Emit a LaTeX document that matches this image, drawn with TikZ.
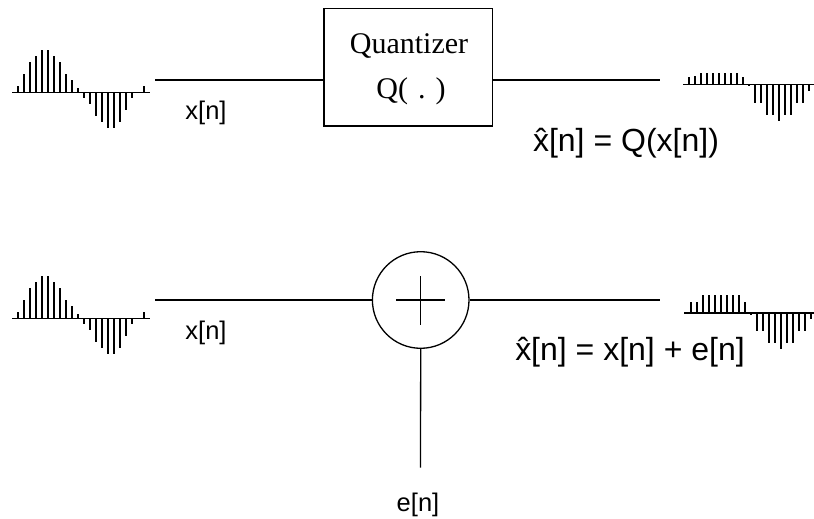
\documentclass[tikz,border=0pt]{standalone}
\usepackage{fontspec}
\setmainfont{Liberation Sans}
\newfontfamily\serifQ{Liberation Serif}
\newcommand\xhat{\ooalign{x\cr\hidewidth ˆ\hidewidth\cr}}
\newcommand\sigplot[5]{%
  \draw[axisline] (#1,#3) -- (#2,#3);
  \foreach \k/\h in {#5} \draw[stemline] ({#4+6*\k},#3) -- ++(0,{-1*(\h)});
}
\begin{document}
\begin{tikzpicture}[x=1pt,y=-1pt,
  wire/.style={line width=1.3pt},
  stemline/.style={line width=1.7pt},
  axisline/.style={line width=1.6pt},
  lbl/.style={font=\fontsize{25.5}{30}\selectfont, inner sep=0pt},
  eqn/.style={font=\fontsize{32}{38}\selectfont, inner sep=0pt},
  boxtxt/.style={font=\serifQ\fontsize{30}{36}\selectfont, inner sep=0pt}]
\useasboundingbox (0,0) rectangle (814,519);

% ---------- top row ----------
\node[draw, wire, minimum width=168.7pt, minimum height=117.7pt, inner sep=0pt] (Q) at (408.4,67.2) {};
\node[boxtxt] (qt1) at (409,46) {Quantizer};
\node[boxtxt] (qt2) at (411,91) {Q(\,\,.\,\,)};
\coordinate (inTop) at (155,80);
\coordinate (outTop) at (660,80);
\draw[wire] (inTop) -- (inTop -| Q.west);
\draw[wire] (outTop -| Q.east) -- (outTop);
\node[lbl] (xt) at (206,113) {x[n]};
\node[eqn] (eqt) at (626,143) {\xhat[n] = Q(x[n])};

\sigplot{12}{150}{92.3}{17.7}{0/6,1/18,2/30,3/36,4/42,5/42,6/36,7/30,8/18,9/12,10/4,11/-6,12/-12,13/-24,14/-30,15/-36,16/-36,17/-30,18/-18,19/-6,21/6}
\sigplot{683.3}{814}{84.5}{689.3}{0/7,1/8,2/11,3/11,4/11,5/11,6/11,7/11,8/11,9/7,10/-2,11/-18,12/-18,13/-30,14/-30,15/-36,16/-30,17/-30,18/-18,19/-18,20/-6}

% ---------- bottom row ----------
\node[circle, draw, wire, minimum size=96.6pt, inner sep=0pt] (S) at (420.7,300) {};
\draw[wire] ([xshift=-24.3pt]S.center) -- ([xshift=24.3pt]S.center);
\draw[wire] ([yshift=-24.5pt]S.center) -- ([yshift=24.5pt]S.center);
\coordinate (inBot) at (155,300);
\coordinate (outBot) at (660,300);
\coordinate (eEnd) at (420.5,467.7);
\draw[wire] (inBot) -- (S.west);
\draw[wire] (S.east) -- (outBot);
\draw[wire] (S.south) -- (eEnd);
\node[lbl] (xb) at (206,333) {x[n]};
\node[lbl] (en) at (418,505) {e[n]};
\node[eqn] (eqb) at (630,352) {\xhat[n] = x[n] + e[n]};

\sigplot{12}{150}{318.3}{17.7}{0/6,1/18,2/30,3/36,4/42,5/42,6/36,7/30,8/18,9/12,10/4,11/-6,12/-12,13/-24,14/-30,15/-36,16/-36,17/-30,18/-18,19/-6,21/6}
\sigplot{684.3}{814}{312.7}{690.7}{0/11,1/11,2/18,3/18,4/18,5/18,6/18,7/18,8/18,9/11,10/-2,11/-18,12/-18,13/-30,14/-30,15/-36,16/-30,17/-30,18/-18,19/-18,20/-6}
\end{tikzpicture}
\end{document}
